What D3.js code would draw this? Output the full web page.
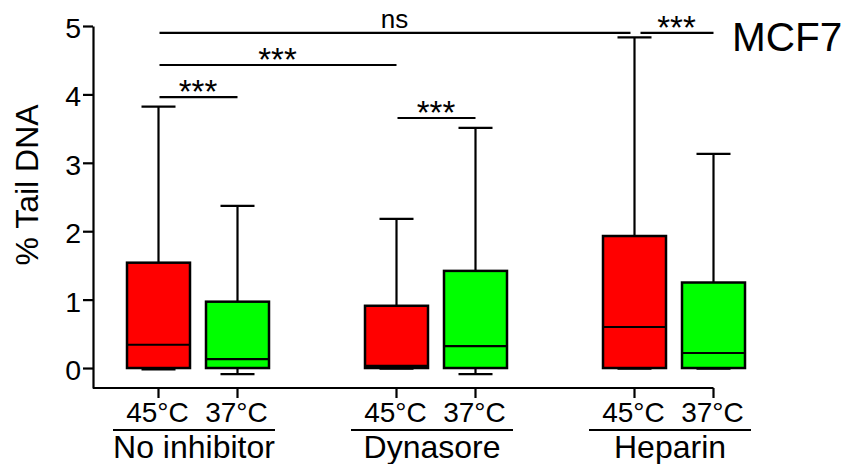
<!DOCTYPE html>
<html>
<head>
<meta charset="utf-8">
<script src="https://cdn.jsdelivr.net/npm/d3@7"></script>
<style>
  html, body { margin: 0; padding: 0; background: #fff; }
  svg { display: block; font-family: "Liberation Sans", Arial, Helvetica, sans-serif; }
</style>
</head>
<body>
<svg id="chart" width="844" height="464"></svg>
<script>
// Treatment groups and temperatures within each group
const groups = ["No inhibitor", "Dynasore", "Heparin"];
const temps = ["45°C", "37°C"];

// Box-plot summaries, one entry per (group, temperature), in reading order
const whiskerLow  = [-0.02, -0.09, -0.01, -0.09, -0.01, -0.01];
const q1          = [0, 0, 0, 0, 0, 0];
const median      = [0.34, 0.13, 0.03, 0.32, 0.60, 0.22];
const q3          = [1.54, 0.97, 0.91, 1.42, 1.93, 1.25];
const whiskerHigh = [3.82, 2.37, 2.18, 3.51, 4.835, 3.13];

const yTicks = [0, 1, 2, 3, 4, 5];

// Significance brackets: indices into the boxes above, bracket height, label
const cmpFrom  = [0, 0, 0, 2, 4];
const cmpTo    = [1, 2, 4, 3, 5];
const cmpLevel = [3.96, 4.43, 4.9, 3.655, 4.9];
const cmpLabel = ["***", "***", "ns", "***", "***"];

const cellLabel = "MCF7";
const yTitle = "% Tail DNA";

const colors = { "45°C": "#ff0000", "37°C": "#00ff00" };

const svg = d3.select("#chart");
const font = '"Liberation Sans", Arial, Helvetica, sans-serif';
const sw = 2.2;

// Scales
const y = d3.scaleLinear().domain([-0.292, 5]).range([388, 26]);
const gx = d3.scalePoint().domain(groups).range([198, 674]);
const tx = d3.scalePoint().domain(temps).range([-39.5, 39.5]);

const boxes = [];
groups.forEach((g, gi) => temps.forEach((t, ti) => {
  const i = gi * temps.length + ti;
  boxes.push({
    group: g, temp: t, x: gx(g) + tx(t),
    lo: whiskerLow[i], q1: q1[i], med: median[i], q3: q3[i], hi: whiskerHigh[i]
  });
}));

const axisX0 = 93;
const boxW = 63;
const capW = 34;

// Y axis
const yAxis = d3.axisLeft(y).tickValues(yTicks).tickSize(10).tickSizeOuter(0).tickPadding(2)
  .tickFormat(d3.format("d"));
const yg = svg.append("g").attr("transform", `translate(${axisX0},0)`).call(yAxis);
yg.select(".domain").attr("stroke", "#000").attr("stroke-width", sw);
yg.selectAll(".tick line").attr("stroke", "#000").attr("stroke-width", sw);
yg.selectAll(".tick text").attr("font-size", 28.5).attr("font-family", font).attr("fill", "#000").attr("dy", "0.4em");

// X axis baseline with a tick under every box
const xBase = y(-0.292);
svg.append("line")
  .attr("x1", axisX0).attr("x2", boxes[boxes.length - 1].x)
  .attr("y1", xBase).attr("y2", xBase)
  .attr("stroke", "#000").attr("stroke-width", sw);
svg.selectAll(".xtick").data(boxes).join("line")
  .attr("class", "xtick")
  .attr("x1", d => d.x).attr("x2", d => d.x)
  .attr("y1", xBase).attr("y2", xBase + 10)
  .attr("stroke", "#000").attr("stroke-width", sw);
svg.selectAll(".xlab").data(boxes).join("text")
  .attr("class", "xlab")
  .attr("x", d => d.x - 1).attr("y", 422)
  .attr("text-anchor", "middle").attr("font-size", 28).attr("fill", "#000")
  .text(d => d.temp);

// Group underlines and names
const groupW = 162;
svg.selectAll(".gline").data(groups).join("line")
  .attr("class", "gline")
  .attr("x1", d => gx(d) - 4 - groupW / 2).attr("x2", d => gx(d) - 4 + groupW / 2)
  .attr("y1", 430).attr("y2", 430)
  .attr("stroke", "#000").attr("stroke-width", sw);
svg.selectAll(".glab").data(groups).join("text")
  .attr("class", "glab")
  .attr("x", d => gx(d) - 4).attr("y", 458)
  .attr("text-anchor", "middle").attr("font-size", 32).attr("fill", "#000")
  .text(d => d);

// Y title
svg.append("text")
  .attr("transform", `translate(38,${185}) rotate(-90)`)
  .attr("text-anchor", "middle").attr("font-size", 32).attr("fill", "#000")
  .text(yTitle);

// Box plots
const bg = svg.selectAll(".box").data(boxes).join("g").attr("class", "box");
const lineAttrs = sel => sel.attr("stroke", "#000").attr("stroke-width", sw);
// whiskers
bg.append("line").call(lineAttrs)
  .attr("x1", d => d.x).attr("x2", d => d.x)
  .attr("y1", d => y(d.q3)).attr("y2", d => y(d.hi));
bg.append("line").call(lineAttrs)
  .attr("x1", d => d.x).attr("x2", d => d.x)
  .attr("y1", d => y(d.q1)).attr("y2", d => y(d.lo));
bg.append("line").call(lineAttrs)
  .attr("x1", d => d.x - capW / 2).attr("x2", d => d.x + capW / 2)
  .attr("y1", d => y(d.hi)).attr("y2", d => y(d.hi));
bg.append("line").call(lineAttrs)
  .attr("x1", d => d.x - capW / 2).attr("x2", d => d.x + capW / 2)
  .attr("y1", d => y(d.lo)).attr("y2", d => y(d.lo));
// box
bg.append("rect")
  .attr("x", d => d.x - boxW / 2).attr("width", boxW)
  .attr("y", d => y(d.q3)).attr("height", d => y(d.q1) - y(d.q3))
  .attr("fill", d => colors[d.temp]).attr("stroke", "#000").attr("stroke-width", 2.5);
// median
bg.append("line").call(lineAttrs)
  .attr("x1", d => d.x - boxW / 2).attr("x2", d => d.x + boxW / 2)
  .attr("y1", d => y(d.med)).attr("y2", d => y(d.med));

// Significance brackets; a small gap separates brackets that meet at the same height
const cmps = cmpFrom.map((f, i) => ({
  x1: boxes[f].x, x2: boxes[cmpTo[i]].x, level: cmpLevel[i], label: cmpLabel[i]
}));
cmps.forEach(c => {
  cmps.forEach(o => {
    if (o !== c && o.level === c.level && o.x1 === c.x2) { c.x2 -= 4; o.x1 += 5; }
  });
});
svg.selectAll(".cmp").data(cmps).join("line")
  .attr("class", "cmp")
  .attr("x1", d => d.x1 + 1).attr("x2", d => d.x2)
  .attr("y1", d => y(d.level)).attr("y2", d => y(d.level))
  .attr("stroke", "#000").attr("stroke-width", sw);
svg.selectAll(".cmplab").data(cmps).join("text")
  .attr("class", "cmplab")
  .attr("x", d => (d.x1 + d.x2) / 2)
  .attr("y", d => y(d.level) - (d.label === "ns" ? 5 : -6))
  .attr("text-anchor", "middle")
  .attr("font-size", d => d.label === "ns" ? 26 : 33)
  .attr("fill", "#000")
  .text(d => d.label);

// Cell line label
svg.append("text")
  .attr("x", 732).attr("y", 51)
  .attr("font-size", 40.5).attr("fill", "#000")
  .text(cellLabel);
</script>
</body>
</html>
